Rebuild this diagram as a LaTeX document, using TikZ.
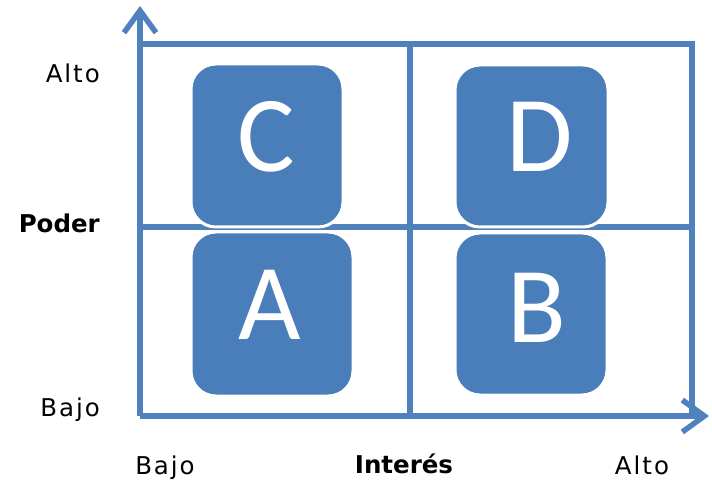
\documentclass[tikz,border=0pt]{standalone}
\usepackage{fontspec}
\usetikzlibrary{arrows.meta}
\newfontfamily\labfont[LetterSpace=8]{DejaVu Sans}
\newfontfamily\labboldfont{DejaVu Sans}
\newfontfamily\boxfont{Carlito}
\definecolor{axisblue}{HTML}{4F81BD}
\definecolor{boxblue}{HTML}{4A7EBA}
\begin{document}
\begin{tikzpicture}[x=1pt,y=-1pt,
  gridline/.style={draw=axisblue,line width=5.5pt},
  axisline/.style={draw=axisblue,line width=5.5pt,-{Straight Barb[length=22pt,width=32pt,line width=5.5pt]}},
  quadbox/.style={fill=boxblue,draw=white,line width=3pt,rounded corners=25pt},
  letter/.style={text=white,inner sep=0pt,font=\boxfont\fontsize{108}{110}\selectfont},
  axislab/.style={inner sep=0pt,font=\labfont\fontsize{24.5}{28}\selectfont},
  axistitle/.style={inner sep=0pt,font=\labboldfont\bfseries\fontsize{24.5}{28}\selectfont}]
\useasboundingbox (0,0) rectangle (712,481);
% coordinates
\coordinate (o) at (140,416);
\coordinate (ytip) at (140,6);
\coordinate (xtip) at (709,416);
\coordinate (tl) at (140,44);
\coordinate (tr) at (692,44);
\coordinate (br) at (692,416);
\coordinate (ml) at (140,227);
\coordinate (mr) at (692,227);
\coordinate (mt) at (410,44);
\coordinate (mb) at (410,416);
% grid
\draw[gridline] (tl) -- (tr) -- (br);
\draw[gridline] (ml) -- (mr);
\draw[gridline] (mt) -- (mb);
% axes
\draw[axisline] (o) -- (ytip);
\draw[axisline] (o) -- (xtip);
% boxes
\path[quadbox] (191,64) rectangle (343,227) coordinate (cbox);
\path[quadbox] (191,232) rectangle (353,396) coordinate (abox);
\path[quadbox] (455,65) rectangle (608,227) coordinate (dbox);
\path[quadbox] (455,233) rectangle (607,395) coordinate (bbox);
% letters
\node[letter] (C) at (266,137) {C};
\node[letter] (D) at (540,137) {D};
\node[letter] (A) at (270,305) {A};
\node[letter] (B) at (537,308) {B};
% axis labels
\node[axislab,anchor=base east] (altoy) at (100,83) {Alto};
\node[axistitle,anchor=base east] (poder) at (100,233) {Poder};
\node[axislab,anchor=base east] (bajoy) at (100,416) {Bajo};
\node[axislab,anchor=base] (bajox) at (165,474) {Bajo};
\node[axistitle,anchor=base] (interes) at (404,473) {Interés};
\node[axislab,anchor=base] (altox) at (642,474) {Alto};
\end{tikzpicture}
\end{document}
